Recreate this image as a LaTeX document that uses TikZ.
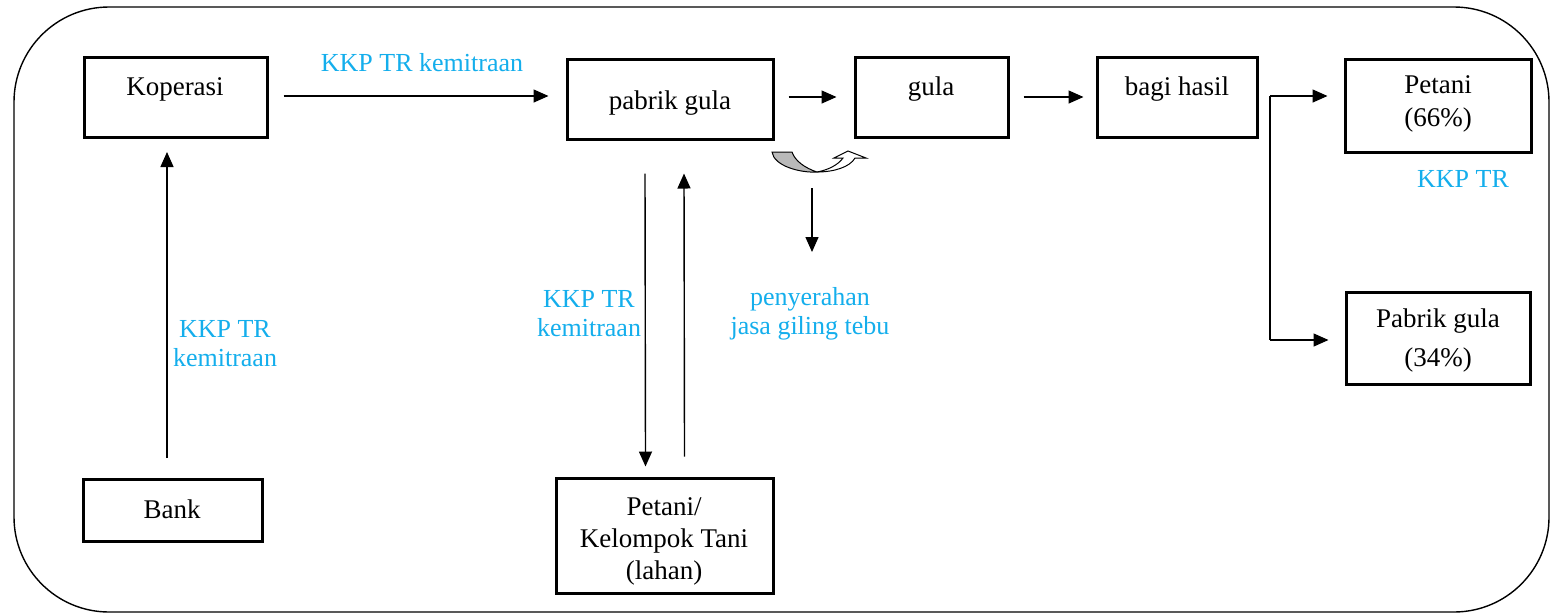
\documentclass[tikz,border=0pt]{standalone}
\usepackage{fontspec}
\setmainfont{Liberation Serif}
\newfontfamily\tnr{Liberation Serif}
\usetikzlibrary{arrows.meta,calc}
\definecolor{kkpblue}{RGB}{20,174,236}
\begin{document}
\begin{tikzpicture}[x=1pt,y=-1pt,
  every node/.style={font=\tnr\fontsize{27}{32}\selectfont},
  box/.style={draw,line width=3pt,rectangle,inner sep=0pt},
  txt/.style={align=center,inner sep=0pt},
  lbl/.style={align=center,inner sep=0pt,text=kkpblue,font=\tnr\fontsize{26}{29}\selectfont},
  arr/.style={line width=1.4pt,-{Triangle[length=15pt,width=13pt]}},
  ln/.style={line width=1.4pt}]
\useasboundingbox (0,0) rectangle (1552,614);

% frame
\draw[line width=1.4pt,rounded corners=95pt] (14,7) rectangle (1549,612);

% boxes
\node[box,minimum width=183pt,minimum height=80pt] (kop)  at (175.5,97) {};
\node[box,minimum width=206pt,minimum height=80pt] (pg)   at (670,99) {};
\node[box,minimum width=153pt,minimum height=80pt] (gula) at (931.5,97) {};
\node[box,minimum width=160pt,minimum height=80pt] (bh)   at (1177,97) {};
\node[box,minimum width=186pt,minimum height=93pt] (pet)  at (1438,105.5) {};
\node[box,minimum width=184pt,minimum height=92pt] (pgb)  at (1438,338) {};
\node[box,minimum width=179pt,minimum height=62pt] (bank) at (172.5,510) {};
\node[box,minimum width=217pt,minimum height=115pt] (tani) at (664.5,535.5) {};

% box texts
\node[txt] (kopt)  at (175,89)  {Koperasi};
\node[txt] (pgt)   at (670,103) {pabrik gula};
\node[txt] (gulat) at (931,89)  {gula};
\node[txt] (bht)   at (1177,89) {bagi hasil};
\node[txt,font=\tnr\fontsize{27}{33}\selectfont] (pett) at (1438,104) {Petani\\(66\%)};
\node[txt,font=\tnr\fontsize{27}{39}\selectfont] (pgbt) at (1438,340) {Pabrik gula\\(34\%)};
\node[txt] (bankt) at (172,509) {Bank};
\node[txt] (tanit) at (664,541) {Petani/\\Kelompok Tani\\(lahan)};

% labels
\node[lbl] (l1) at (422,63)  {KKP TR kemitraan};
\node[lbl] (l2) at (225,344) {KKP TR\\kemitraan};
\node[lbl] (l3) at (589,314) {KKP TR\\kemitraan};
\node[lbl] (l4) at (810,314) {penyerahan\\jasa giling tebu};
\node[lbl] (l5) at (1463,179) {KKP TR};

% flow along the top
\draw[arr] ([xshift=15pt,yshift=1pt]kop.east) -- ([xshift=-17pt,yshift=3pt]pg.west);
\draw[arr] ([xshift=14pt,yshift=2pt]pg.east) -- ([xshift=-17pt]gula.west);
\draw[arr] ([xshift=14pt]gula.east) -- ([xshift=-12pt]bh.west);

% split into the two shares
\coordinate (sp1) at (1270,96);
\coordinate (sp2) at (1270,340);
\draw[ln] (sp1) -- (sp2);
\draw[arr] (sp1) -- ([xshift=-16pt]pet.west |- sp1);
\draw[arr] (sp2) -- ([xshift=-16pt]pgb.west |- sp2);

% credit from the bank
\coordinate (bk) at (167,458);
\coordinate (kp) at (167,152);
\draw[arr] (bk) -- (kp);

% between factory and farmers
\draw[arr] ([xshift=-25pt,yshift=-33pt]pg.south) -- ([xshift=-19pt,yshift=10pt]tani.north);
\draw[arr] ([xshift=20pt,yshift=20pt]tani.north) -- ([xshift=14pt,yshift=-33pt]pg.south);

% curved up arrow
\filldraw[fill=gray!55,line width=1pt]
  (772,152) .. controls (774,166) and (800,173) .. (817,172)
  .. controls (805,168) and (795,161) .. (792,152) -- cycle;
\filldraw[fill=white,line width=1pt]
  (817,172) .. controls (834,172) and (850,167) .. (855,158)
  -- (866,158) -- (848,151) -- (834,158) -- (843,158)
  .. controls (838,165) and (828,170) .. (817,172) -- cycle;
\coordinate (cu) at (812,188);
\coordinate (cd) at (812,252);
\draw[arr] (cu) -- (cd);
\end{tikzpicture}
\end{document}
